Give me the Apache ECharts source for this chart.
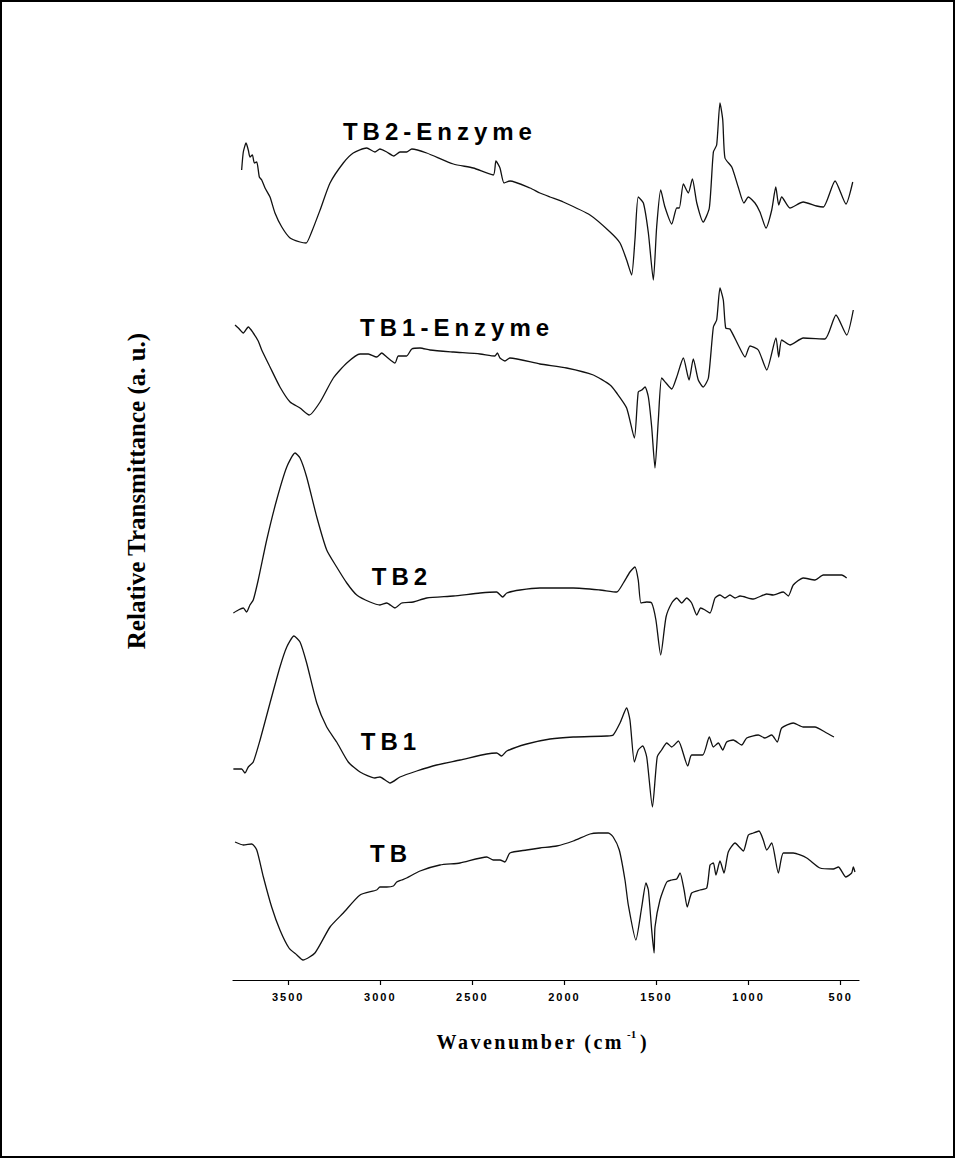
<!DOCTYPE html>
<html>
<head>
<meta charset="utf-8">
<script src="https://cdn.jsdelivr.net/npm/echarts@6/dist/echarts.min.js"></script>
<style>
  html, body { margin: 0; padding: 0; background: #fff; }
  #chart { position: absolute; left: 0; top: 0; width: 955px; height: 1158px; }
  #frame { position: absolute; left: 0; top: 0; width: 955px; height: 1158px; box-sizing: border-box; border: 2px solid #000; pointer-events: none; }
</style>
</head>
<body>
<div id="chart"></div>
<div id="frame"></div>
<script>
// ---- data (wavenumber in cm^-1, relative transmittance in a.u.) ----
const TB2E_wn = [3753,3744,3729,3717,3708,3695,3684,3671,3657,3644,3626,3599,3572,3535,3490,3436,3403,3373,3327,3273,3201,3147,3074,3029,3002,2965,2926,2893,2857,2829,2748,2603,2495,2386,2372,2350,2328,2296,2187,2133,2078,2006,1861,1752,1698,1662,1635,1617,1599,1571,1544,1517,1499,1477,1454,1417,1390,1376,1354,1327,1305,1281,1246,1213,1191,1173,1155,1140,1128,1091,1056,1025,1001,965,938,905,874,852,836,820,775,703,630,594,530,471,434];
const TB2E_val = [83.0,84.8,85.7,85.0,84.3,84.5,83.7,83.8,82.3,82.0,81.2,80.3,78.7,77.3,76.2,75.8,75.7,76.8,79.0,81.7,83.7,84.7,85.2,84.8,85.1,84.8,84.4,84.8,84.8,85.1,84.7,83.6,83.2,82.5,83.9,83.2,81.7,81.9,81.2,80.7,80.3,79.8,78.5,76.8,75.7,74.0,72.5,76.0,80.3,79.7,76.7,72.0,77.3,81.0,79.3,77.6,79.2,79.2,81.6,80.7,82.1,79.7,77.8,79.2,84.8,85.5,89.7,88.0,84.2,83.3,81.3,79.7,80.3,79.7,78.8,77.2,79.0,81.3,79.5,80.3,79.2,79.8,79.4,79.3,81.9,79.6,81.8];

const TB1E_wn = [3789,3771,3744,3717,3690,3663,3644,3599,3545,3490,3436,3386,3327,3255,3182,3110,3065,3020,2992,2965,2920,2902,2857,2829,2784,2730,2603,2458,2377,2364,2350,2323,2296,2133,1988,1843,1752,1716,1662,1620,1599,1580,1562,1544,1526,1508,1490,1472,1448,1417,1390,1354,1323,1300,1273,1246,1218,1191,1173,1155,1137,1124,1101,1056,1019,992,947,901,851,836,820,775,703,585,525,467,431];
const TB1E_val = [67.5,67.2,66.7,67.3,66.7,65.9,65.0,63.3,61.3,59.8,59.2,58.5,59.8,62.2,63.7,64.6,64.6,64.3,64.7,64.3,63.7,64.4,64.4,65.1,65.2,65.0,64.8,64.6,64.4,64.7,64.2,63.9,64.2,63.6,63.2,62.5,61.5,60.7,59.2,56.2,60.8,61.0,61.3,60.3,57.3,53.2,58.0,62.2,61.7,61.1,62.3,64.2,62.0,64.1,62.0,61.3,62.2,67.3,68.0,71.2,70.0,67.2,67.1,65.5,64.3,65.4,65.0,63.0,66.2,64.3,66.0,65.5,66.2,66.1,68.5,66.5,69.0];

const TB2_wn = [3798,3771,3744,3726,3708,3690,3663,3617,3563,3508,3463,3436,3400,3345,3291,3237,3182,3128,3056,3002,2965,2920,2884,2821,2748,2603,2458,2368,2335,2313,2241,2133,1952,1807,1716,1680,1644,1617,1599,1584,1553,1526,1503,1477,1448,1417,1390,1363,1336,1309,1281,1260,1236,1209,1182,1155,1128,1101,1073,1046,974,901,866,811,784,757,703,639,594,540,494,467];
const TB2_val = [38.7,39.0,39.2,38.8,39.5,40.0,42.0,46.0,50.0,53.3,54.7,54.2,52.3,48.3,45.0,43.3,41.7,40.5,39.8,39.5,39.7,39.2,39.7,39.8,40.2,40.4,40.7,40.8,40.3,40.7,41.0,41.2,41.2,41.0,40.8,41.7,42.8,43.3,42.0,39.7,39.8,39.7,38.0,34.5,38.3,39.7,40.2,39.7,40.2,39.7,38.5,39.2,39.0,38.7,40.2,40.5,40.2,40.5,40.2,40.4,40.1,40.6,40.5,40.8,40.4,41.5,42.2,42.0,42.5,42.5,42.5,42.2];

const TB1_wn = [3798,3753,3735,3717,3690,3653,3599,3545,3508,3469,3436,3400,3345,3291,3237,3174,3110,3029,3002,2947,2893,2802,2694,2567,2422,2368,2341,2313,2205,2078,1952,1770,1735,1698,1662,1644,1620,1599,1575,1553,1522,1496,1472,1444,1417,1381,1330,1309,1249,1213,1191,1164,1140,1119,1083,1037,1010,947,911,874,844,820,757,703,639,585,536];
const TB1_val = [23.1,23.1,22.7,23.3,23.8,26.0,29.7,33.3,35.3,36.4,35.8,33.7,29.7,27.3,25.8,23.8,22.8,22.2,22.3,21.7,22.3,22.9,23.5,24.0,24.6,24.7,24.4,24.9,25.6,26.1,26.3,26.4,26.5,27.7,29.2,28.0,23.8,25.0,25.4,24.3,19.3,24.3,25.0,25.7,25.3,25.9,23.4,24.5,24.5,26.3,25.3,25.7,25.0,25.8,26.0,25.5,26.2,26.5,26.2,26.5,25.8,27.2,27.7,27.3,27.3,26.8,26.3];

const TB_wn = [3789,3744,3698,3671,3635,3590,3545,3496,3453,3420,3355,3273,3201,3110,3020,3002,2965,2929,2911,2884,2857,2784,2676,2567,2422,2386,2350,2323,2296,2205,2133,2042,1952,1861,1816,1762,1735,1702,1671,1653,1612,1580,1557,1544,1526,1513,1508,1481,1444,1417,1390,1372,1350,1333,1309,1264,1227,1209,1191,1177,1155,1133,1110,1073,1050,1028,1001,974,943,920,901,874,838,811,757,684,612,540,512,471,440,431,422];
const TB_val = [15.8,15.5,15.6,15.0,12.3,9.3,7.0,5.2,4.5,4.0,4.7,7.3,8.7,10.5,11.0,11.3,11.3,11.4,11.8,12.0,12.2,12.9,13.5,13.7,14.3,14.0,14.0,13.8,14.7,15.0,15.2,15.4,15.9,16.6,16.7,16.7,16.3,15.0,12.0,9.5,6.0,9.3,11.7,11.0,7.0,4.7,7.3,10.0,11.8,12.0,12.1,12.7,11.0,9.3,10.7,11.0,11.2,13.5,13.7,12.5,13.9,12.7,14.8,15.7,15.3,14.9,16.5,16.7,16.9,16.0,15.0,15.7,12.7,14.7,14.7,14.2,13.2,13.1,13.3,12.3,12.7,13.3,12.8];

const SERIES_NAMES = ['TB2-Enzyme', 'TB1-Enzyme', 'TB2', 'TB1', 'TB'];
const X_TICKS = [3500, 3000, 2500, 2000, 1500, 1000, 500];
const X_TITLE = 'Wavenumber (cm';
const X_TITLE_SUP = '-1';
const X_TITLE_END = ')';
const Y_TITLE = 'Relative Transmittance (a. u.)';

// ---- build ----
function zip(w, v) { const n = Math.min(w.length, v.length); const out = []; for (let i = 0; i < n; i++) out.push([w[i], v[i]]); return out; }
const allData = [zip(TB2E_wn, TB2E_val), zip(TB1E_wn, TB1E_val), zip(TB2_wn, TB2_val), zip(TB1_wn, TB1_val), zip(TB_wn, TB_val)];
// label anchor positions (layout, in data units)
const labelAt = [[2676, 86.9], [2583, 67.3], [2882, 42.4], [2942, 25.9], [2942, 14.7]];

const AXIS_Y = 980;           // pixel row of the x axis line
const TITLE_Y = AXIS_Y + 62;  // pixel row of the x axis title
const serif = '"Liberation Serif", "Times New Roman", serif';

const chart = echarts.init(document.getElementById('chart'), null, { renderer: 'svg', width: 955, height: 1158 });

const series = allData.map((d, i) => ({
  name: SERIES_NAMES[i],
  type: 'line',
  data: d,
  symbol: 'none',
  smooth: 0.2,
  silent: true,
  lineStyle: { color: '#111', width: 1.3 },
  markPoint: {
    symbol: 'circle', symbolSize: 1,
    itemStyle: { color: 'rgba(0,0,0,0)' },
    label: { show: true, position: 'inside', formatter: SERIES_NAMES[i], color: '#000',
      fontFamily: 'Liberation Sans, Arial, sans-serif', fontWeight: 'bold', fontSize: 24 },
    data: [{ coord: labelAt[i] }]
  }
}));

const option = {
  animation: false,
  backgroundColor: '#fff',
  grid: { left: 233, right: 96, top: 80, bottom: 1158 - AXIS_Y },
  xAxis: {
    type: 'value', min: 400, max: 3800, inverse: true,
    axisLine: { show: true, onZero: false, lineStyle: { color: '#000', width: 1.2 } },
    axisTick: { show: true, customValues: X_TICKS, length: 5, lineStyle: { color: '#000', width: 1.2 } },
    axisLabel: { customValues: X_TICKS, formatter: v => String(v), color: '#000', fontSize: 11, fontWeight: 'bold',
      fontFamily: 'Liberation Sans, Arial, sans-serif', margin: 11 },
    splitLine: { show: false }
  },
  yAxis: { type: 'value', min: 2, max: 92, show: false },
  graphic: [
    { type: 'text', x: 136, y: 491, rotation: Math.PI / 2,
      style: { text: Y_TITLE, fill: '#000', font: 'bold 25px ' + serif, textAlign: 'center', textVerticalAlign: 'middle' } },
    { type: 'text', x: 624, y: TITLE_Y,
      style: { text: X_TITLE, fill: '#000', font: 'bold 20px ' + serif, textAlign: 'right', textVerticalAlign: 'middle' } },
    { type: 'text', x: 627, y: TITLE_Y - 8,
      style: { text: X_TITLE_SUP, fill: '#000', font: 'bold 11px ' + serif, textAlign: 'left', textVerticalAlign: 'middle' } },
    { type: 'text', x: 640, y: TITLE_Y,
      style: { text: X_TITLE_END, fill: '#000', font: 'bold 20px ' + serif, textAlign: 'left', textVerticalAlign: 'middle' } }
  ],
  series: series
};
chart.setOption(option);

function spaceText() {
  document.querySelectorAll('#chart svg text').forEach(t => {
    const s = (t.textContent || '').trim();
    if (SERIES_NAMES.indexOf(s) >= 0) t.setAttribute('letter-spacing', '5');
    else if (/^\d+$/.test(s)) t.setAttribute('letter-spacing', '2');
    else if (s === X_TITLE) t.setAttribute('letter-spacing', '2.5');
  });
}
spaceText();
chart.on('finished', spaceText);
setTimeout(spaceText, 50);
</script>
</body>
</html>
